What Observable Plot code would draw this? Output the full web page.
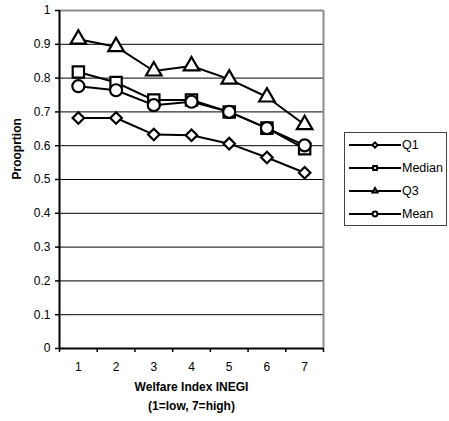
<!DOCTYPE html>
<html>
<head>
<meta charset="utf-8">
<script src="https://cdn.jsdelivr.net/npm/d3@7"></script>
<script src="https://cdn.jsdelivr.net/npm/@observablehq/plot@0.6"></script>
<style>
  html, body { margin: 0; padding: 0; background: #fff; }
  #chart { position: relative; width: 449px; height: 421px; font-family: "Liberation Sans", Arial, sans-serif; }
  #legend {
    position: absolute; left: 344px; top: 132px; width: 103px; height: 94px;
    border: 1px solid #444; box-sizing: border-box; background: #fff;
    font-size: 12.5px; color: #000;
  }
  .item { position: absolute; left: 4px; height: 14px; display: flex; align-items: center; }
  .item span { margin-left: 1px; }
</style>
</head>
<body>
<div id="chart"></div>
<script>
// Welfare index categories (1 = low, 7 = high)
const categories = [1, 2, 3, 4, 5, 6, 7];

// Proportion by welfare index, one array per statistic
const q1     = [0.682, 0.682, 0.633, 0.631, 0.606, 0.565, 0.520];
const median = [0.818, 0.787, 0.735, 0.735, 0.700, 0.652, 0.591];
const q3     = [0.915, 0.893, 0.821, 0.836, 0.797, 0.744, 0.662];
const mean   = [0.776, 0.764, 0.720, 0.730, 0.700, 0.652, 0.601];

const seriesNames = ["Q1", "Median", "Q3", "Mean"];
const seriesValues = [q1, median, q3, mean];

// Axis ticks
const yTicks = [0, 0.1, 0.2, 0.3, 0.4, 0.5, 0.6, 0.7, 0.8, 0.9, 1];
const gridValues = yTicks.filter(v => v > 0 && v < 1);
const boundaries = [...categories.map(c => c - 0.5), categories[categories.length - 1] + 0.5];

// Marker style for each statistic
const markers = {
  Q1:     {symbol: "diamond2", r: 5.2},
  Median: {symbol: "square2",  r: 7.2},
  Q3:     {symbol: "triangle2", r: 7.4},
  Mean:   {symbol: "circle",   r: 6}
};

const data = seriesNames.flatMap((name, i) =>
  categories.map((c, j) => ({series: name, x: c, y: seriesValues[i][j]}))
);

const chart = Plot.plot({
  width: 449,
  height: 421,
  marginLeft: 59,
  marginRight: 126,
  marginTop: 10,
  marginBottom: 73,
  style: {fontFamily: "'Liberation Sans', Arial, sans-serif", fontSize: "12px", color: "#000", background: "#fff"},
  x: {type: "linear", domain: [boundaries[0], boundaries[boundaries.length - 1]]},
  y: {domain: [0, 1]},
  marks: [
    Plot.ruleY(gridValues, {stroke: "#000", strokeWidth: 1}),
    Plot.ruleY([1], {stroke: "#8c8c8c", strokeWidth: 2}),
    Plot.ruleX([boundaries[boundaries.length - 1]], {stroke: "#8c8c8c", strokeWidth: 2}),
    Plot.axisY({ticks: yTicks, tickFormat: d => String(d), tickSize: 4, tickPadding: 5, label: null, fontSize: 12, stroke: "#000", strokeWidth: 1.5}),
    Plot.axisX({ticks: categories, tickFormat: d => String(d), tickSize: 0, tickPadding: 14, label: null, fontSize: 12}),
    Plot.axisX({ticks: boundaries, tickSize: 4, tickFormat: () => "", label: null, strokeWidth: 1.5}),
    Plot.ruleX([boundaries[0]], {stroke: "#000", strokeWidth: 2}),
    Plot.ruleY([0], {stroke: "#000", strokeWidth: 2}),
    ...seriesNames.flatMap(name => {
      const rows = data.filter(d => d.series === name);
      return [
        Plot.line(rows, {x: "x", y: "y", stroke: "#000", strokeWidth: 2}),
        Plot.dot(rows, {x: "x", y: "y", symbol: () => markers[name].symbol, r: markers[name].r, stroke: "#000", strokeWidth: 2.2, fill: "#fff"})
      ];
    }),
    Plot.text(["Welfare Index INEGI"], {frameAnchor: "bottom", dy: 42, fontWeight: "bold", fontSize: 12}),
    Plot.text(["(1=low, 7=high)"], {frameAnchor: "bottom", dy: 61, fontWeight: "bold", fontSize: 12}),
    Plot.text(["Prooprtion"], {frameAnchor: "left", dx: -42, rotate: -90, fontWeight: "bold", fontSize: 12})
  ]
});

const root = document.getElementById("chart");
root.appendChild(chart);

// Legend: a short line with a small marker, followed by the series name
const legend = d3.select(root).append("div").attr("id", "legend");
const legendSymbols = {Q1: d3.symbolDiamond2, Median: d3.symbolSquare2, Q3: d3.symbolTriangle2, Mean: d3.symbolCircle};
seriesNames.forEach((name, i) => {
  const item = legend.append("div").attr("class", "item").style("top", (5 + i * 23) + "px");
  const svg = item.append("svg").attr("width", 52).attr("height", 14);
  svg.append("line").attr("x1", 0).attr("x2", 52).attr("y1", 7).attr("y2", 7)
    .attr("stroke", "#000").attr("stroke-width", 2);
  svg.append("path").attr("transform", "translate(26,7)")
    .attr("d", d3.symbol(legendSymbols[name], 18)())
    .attr("fill", "#fff").attr("stroke", "#000").attr("stroke-width", 2);
  item.append("span").text(name);
});
</script>
</body>
</html>
